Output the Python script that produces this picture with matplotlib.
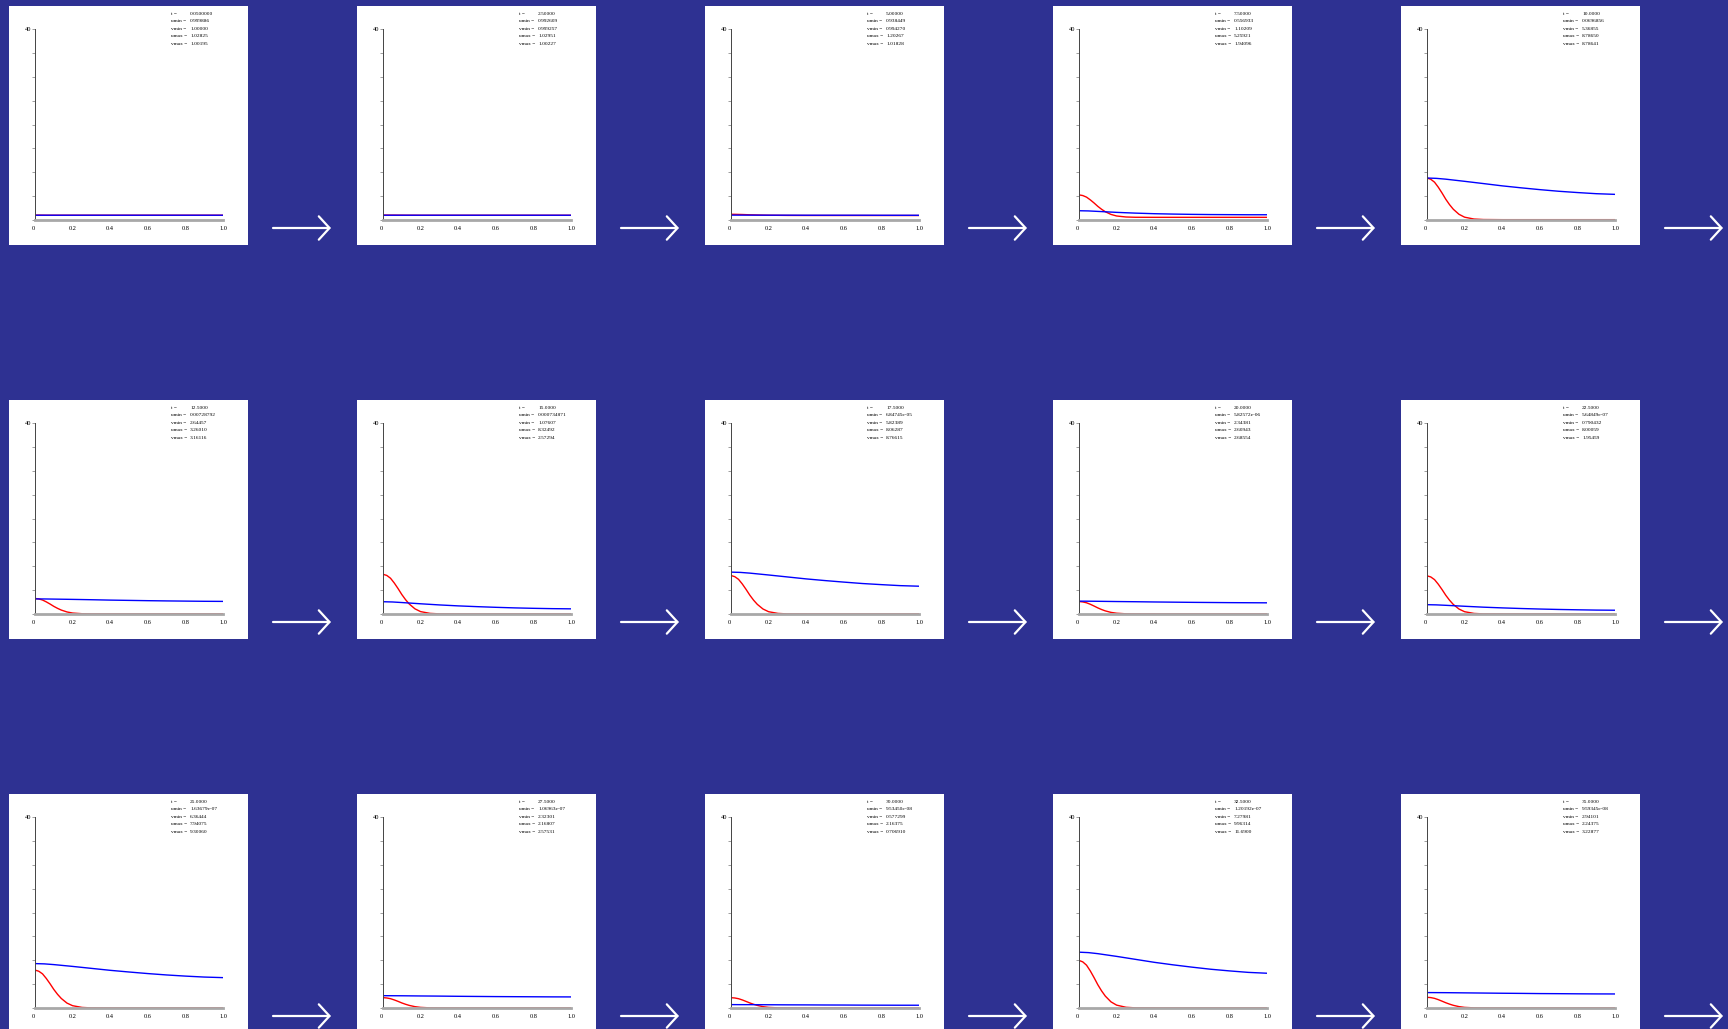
import matplotlib.pyplot as plt
from matplotlib.patches import Rectangle

plt.rcParams['font.family'] = ['Liberation Serif', 'DejaVu Serif']

# Readouts printed in each snapshot
t_text = ["0.0500000", "2.50000", "5.00000", "7.50000", "10.0000",
          "12.5000", "15.0000", "17.5000", "20.0000", "22.5000",
          "25.0000", "27.5000", "30.0000", "32.5000", "35.0000"]
umin_text = ["0.999886", "0.992609", "0.938449", "0.556933", "0.0696856",
             "0.00728792", "0.000734871", "6.84745e-05", "5.82572e-06", "5.64849e-07",
             "1.63679e-07", "1.06963e-07", "9.53450e-08", "1.20192e-07", "9.59345e-08"]
vmin_text = ["1.00000", "0.999257", "0.994270", "1.10209", "5.36855",
             "2.64457", "1.07607", "5.82389", "2.34381", "0.790432",
             "6.36444", "2.32301", "0.577299", "7.27981", "2.94101"]
umax_text = ["1.02825", "1.02951", "1.20267", "5.25921", "8.78650",
             "3.26010", "8.32492", "8.06287", "2.60943", "8.00059",
             "7.94075", "2.16807", "2.16375", "9.96314", "2.24375"]
vmax_text = ["1.00195", "1.00227", "1.01828", "1.94096", "8.78641",
             "3.16116", "2.57294", "8.76615", "2.68554", "1.95459",
             "9.30060", "2.57531", "0.706910", "11.6900", "3.22877"]

# u profiles (red) sampled along x
x_u = [0, 0.02, 0.04, 0.06, 0.08, 0.10, 0.12, 0.14, 0.17, 0.20, 0.25, 0.30, 0.40, 1.0]
u_profiles = [
    [1.028, 1.02, 1.01, 1.00, 1.00, 1.00, 1.00, 1.00, 1.00, 1.00, 1.00, 1.00, 1.00, 1.00],
    [1.03, 1.03, 1.02, 1.02, 1.01, 1.01, 1.00, 1.00, 1.00, 0.99, 0.99, 0.99, 0.99, 0.99],
    [1.20, 1.19, 1.17, 1.15, 1.12, 1.09, 1.07, 1.05, 1.02, 1.00, 0.98, 0.96, 0.95, 0.94],
    [5.26, 5.12, 4.79, 4.22, 3.57, 2.86, 2.25, 1.73, 1.17, 0.84, 0.63, 0.57, 0.56, 0.56],
    [8.79, 8.53, 7.92, 6.87, 5.65, 4.34, 3.21, 2.25, 1.20, 0.59, 0.20, 0.10, 0.07, 0.07],
    [3.26, 3.16, 2.93, 2.54, 2.09, 1.60, 1.18, 0.82, 0.43, 0.20, 0.06, 0.02, 0.01, 0.01],
    [8.32, 8.08, 7.49, 6.49, 5.33, 4.08, 3.00, 2.08, 1.08, 0.50, 0.13, 0.03, 0.00, 0.00],
    [8.06, 7.82, 7.26, 6.29, 5.16, 3.95, 2.90, 2.02, 1.05, 0.48, 0.12, 0.02, 0.00, 0.00],
    [2.61, 2.53, 2.35, 2.04, 1.67, 1.28, 0.94, 0.65, 0.34, 0.16, 0.04, 0.01, 0.00, 0.00],
    [8.00, 7.76, 7.20, 6.24, 5.12, 3.92, 2.88, 2.00, 1.04, 0.48, 0.12, 0.02, 0.00, 0.00],
    [7.94, 7.70, 7.15, 6.19, 5.08, 3.89, 2.86, 1.99, 1.03, 0.48, 0.12, 0.02, 0.00, 0.00],
    [2.17, 2.10, 1.95, 1.69, 1.39, 1.06, 0.78, 0.54, 0.28, 0.13, 0.03, 0.01, 0.00, 0.00],
    [2.16, 2.10, 1.95, 1.69, 1.38, 1.06, 0.78, 0.54, 0.28, 0.13, 0.03, 0.01, 0.00, 0.00],
    [9.96, 9.66, 8.97, 7.77, 6.37, 4.88, 3.59, 2.49, 1.29, 0.60, 0.15, 0.03, 0.00, 0.00],
    [2.24, 2.18, 2.02, 1.75, 1.43, 1.10, 0.81, 0.56, 0.29, 0.13, 0.03, 0.01, 0.00, 0.00],
]

# v profiles (blue) sampled along x
x_v = [0, 0.05, 0.1, 0.2, 0.3, 0.4, 0.5, 0.6, 0.7, 0.8, 0.9, 1.0]
v_profiles = [
    [1.002, 1.002, 1.001, 1.001, 1.00, 1.00, 1.00, 1.00, 1.00, 1.00, 1.00, 1.00],
    [1.002, 1.002, 1.002, 1.001, 1.001, 1.00, 1.00, 1.00, 1.00, 0.999, 0.999, 0.999],
    [1.02, 1.02, 1.02, 1.01, 1.01, 1.00, 1.00, 1.00, 1.00, 0.99, 0.99, 0.99],
    [1.94, 1.90, 1.80, 1.60, 1.44, 1.32, 1.24, 1.18, 1.14, 1.12, 1.10, 1.10],
    [8.79, 8.72, 8.55, 8.10, 7.63, 7.15, 6.74, 6.36, 6.02, 5.75, 5.51, 5.37],
    [3.16, 3.15, 3.12, 3.06, 2.99, 2.91, 2.85, 2.79, 2.74, 2.70, 2.66, 2.64],
    [2.57, 2.52, 2.40, 2.14, 1.90, 1.70, 1.54, 1.40, 1.28, 1.19, 1.12, 1.08],
    [8.77, 8.71, 8.56, 8.17, 7.76, 7.35, 7.00, 6.68, 6.38, 6.15, 5.94, 5.82],
    [2.69, 2.68, 2.66, 2.61, 2.57, 2.52, 2.48, 2.44, 2.41, 2.38, 2.36, 2.34],
    [1.95, 1.91, 1.82, 1.62, 1.43, 1.28, 1.15, 1.04, 0.95, 0.88, 0.82, 0.79],
    [9.30, 9.24, 9.09, 8.71, 8.30, 7.89, 7.54, 7.21, 6.92, 6.68, 6.48, 6.36],
    [2.58, 2.57, 2.56, 2.52, 2.49, 2.45, 2.42, 2.39, 2.37, 2.35, 2.33, 2.32],
    [0.71, 0.70, 0.70, 0.68, 0.66, 0.65, 0.63, 0.62, 0.60, 0.59, 0.58, 0.58],
    [11.69, 11.60, 11.38, 10.81, 10.19, 9.57, 9.04, 8.56, 8.12, 7.77, 7.46, 7.28],
    [3.23, 3.22, 3.21, 3.17, 3.13, 3.09, 3.06, 3.02, 3.00, 2.97, 2.95, 2.94],
]

x_ticks = [0, 0.2, 0.4, 0.6, 0.8, 1.0]
x_ticklabels = ["0", "0.2", "0.4", "0.6", "0.8", "1.0"]
y_ticks = [0, 5, 10, 15, 20, 25, 30, 35, 40]

W, H = 1728, 1029
fig = plt.figure(figsize=(W / 100, H / 100), dpi=100)
fig.patch.set_facecolor('#2e3192')

# pixel-space overlay for the cards, readouts and arrows
bg = fig.add_axes([0, 0, 1, 1])
bg.set_xlim(0, W)
bg.set_ylim(H, 0)
bg.axis('off')

labels = ["t =", "umin =", "vmin =", "umax =", "vmax ="]

for i in range(len(t_text)):
    r, c = divmod(i, 5)
    px, py = 9 + 348 * c, 6 + 394 * r

    bg.add_patch(Rectangle((px, py), 239, 239, facecolor='white', edgecolor='none'))
    bg.annotate('', xy=(px + 322, py + 222), xytext=(px + 264, py + 222),
                arrowprops=dict(arrowstyle='->,head_length=0.55,head_width=0.6',
                                color='white', lw=1.6, mutation_scale=14,
                                shrinkA=0, shrinkB=0))

    values = [t_text[i], umin_text[i], vmin_text[i], umax_text[i], vmax_text[i]]
    for k, (lab, val) in enumerate(zip(labels, values)):
        yy = py + 8 + 7.4 * k
        bg.text(px + 162, yy, lab, fontsize=3.9, va='center', ha='left')
        bg.text(px + 181, yy, val, fontsize=3.9, va='center', ha='left')

    ax = fig.add_axes([(px + 26) / W, 1 - (py + 214) / H, 188 / W, 191 / H])
    ax.set_facecolor('none')
    ax.plot(x_u, u_profiles[i], color='red', lw=1.0)
    ax.plot(x_v, v_profiles[i], color='blue', lw=1.0)
    ax.set_xlim(0, 1)
    ax.set_ylim(0, 40)

    for s in ('top', 'right'):
        ax.spines[s].set_visible(False)
    ax.spines['left'].set_color('#444444')
    ax.spines['left'].set_linewidth(0.7)
    ax.spines['bottom'].set_color('#a8a8a8')
    ax.spines['bottom'].set_linewidth(2.0)

    ax.set_yticks(y_ticks)
    ax.set_yticklabels([''] * (len(y_ticks) - 1) + ['40'])
    ax.tick_params(axis='y', length=2, width=0.5, color='#777777',
                   labelsize=4.6, pad=0.5)
    ax.set_xticks(x_ticks)
    ax.set_xticklabels(x_ticklabels)
    ax.tick_params(axis='x', length=0, labelsize=4.6, pad=4)
    ax.get_xticklabels()[0].set_horizontalalignment('right')

fig.savefig('out.png', dpi=100, facecolor=fig.get_facecolor())
